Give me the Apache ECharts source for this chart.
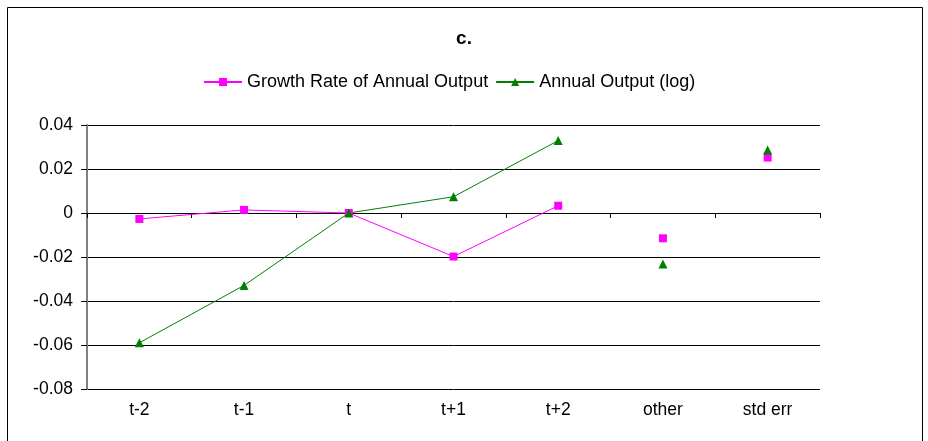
<!DOCTYPE html>
<html>
<head>
<meta charset="utf-8">
<script src="https://cdn.jsdelivr.net/npm/echarts@6/dist/echarts.min.js"></script>
<style>
  html, body { margin: 0; padding: 0; background: #fff; }
  #main { width: 928px; height: 441px; }
</style>
</head>
<body>
<div id="main"></div>
<script>
  var categories = ['t-2', 't-1', 't', 't+1', 't+2', 'other', 'std err'];
  var growthRate = [-0.0027, 0.0014, 0, -0.0198, 0.0033, -0.0115, 0.0252];
  var annualOutput = [-0.059, -0.0329, 0, 0.0074, 0.0329, -0.0232, 0.0286];
  var yTicks = [-0.08, -0.06, -0.04, -0.02, 0, 0.02, 0.04];

  // first five points are joined by a line, the last two are markers only
  var nLine = 5;
  function linepart (arr) {
    return arr.map(function (v, i) { return i < nLine ? v : '-' });
  }
  function dotpart (arr) {
    return arr.map(function (v, i) { return i >= nLine ? v : '-' });
  }

  var font = 'Liberation Sans, Arial, sans-serif';
  var pink = '#FF00FF';
  var green = '#008000';

  var myChart = echarts.init(document.getElementById('main'), null, { renderer: 'canvas' });
  myChart.setOption({
    animation: false,
    graphic: [{
      type: 'rect',
      shape: { x: 7.5, y: 7.5, width: 915, height: 460 },
      style: { fill: 'none', stroke: '#000', lineWidth: 1 },
      z: -1
    }],
    title: {
      text: 'c.',
      left: 'center',
      top: 24,
      textStyle: { fontFamily: font, fontSize: 19, fontWeight: 'bold', color: '#000' }
    },
    legend: {
      data: ['Growth Rate of Annual Output', 'Annual Output (log)'],
      left: 198,
      top: 68,
      itemWidth: 38,
      itemHeight: 10,
      itemGap: 7,
      textStyle: { fontFamily: font, fontSize: 18, color: '#000' }
    },
    grid: { left: 87, right: 108, top: 125, bottom: 52 },
    xAxis: [
      {
        type: 'category',
        data: categories,
        boundaryGap: true,
        axisLine: { onZero: true, lineStyle: { color: '#000', width: 1 } },
        axisTick: { show: true, length: 5, lineStyle: { color: '#000' } },
        axisLabel: { show: false },
        splitLine: { show: false }
      },
      {
        type: 'category',
        data: categories,
        position: 'bottom',
        axisLine: { show: false, onZero: false },
        axisTick: { show: false },
        axisLabel: { fontFamily: font, fontSize: 17.5, color: '#000', margin: 12 },
        splitLine: { show: false }
      }
    ],
    yAxis: {
      type: 'value',
      min: yTicks[0],
      max: yTicks[yTicks.length - 1],
      interval: 0.02,
      axisLine: { show: true, lineStyle: { color: '#808080', width: 2 } },
      axisTick: { show: true, length: 6, lineStyle: { color: '#000' } },
      axisLabel: {
        fontFamily: font, fontSize: 17.5, color: '#000', margin: 14,
        formatter: function (v) { return +v.toFixed(2) + '' }
      },
      splitLine: { lineStyle: { color: '#000', width: 1 } }
    },
    series: [
      {
        name: 'Growth Rate of Annual Output',
        type: 'line',
        data: linepart(growthRate),
        symbol: 'rect',
        symbolSize: 8,
        itemStyle: { color: pink },
        lineStyle: { color: pink, width: 1 },
        z: 3
      },
      {
        name: 'Annual Output (log)',
        type: 'line',
        data: linepart(annualOutput),
        symbol: 'triangle',
        symbolSize: 9,
        itemStyle: { color: green },
        lineStyle: { color: green, width: 1 },
        z: 3
      },
      {
        name: 'Growth Rate of Annual Output',
        type: 'scatter',
        data: dotpart(growthRate),
        symbol: 'rect',
        symbolSize: 8,
        itemStyle: { color: pink, opacity: 1 },
        z: 3
      },
      {
        name: 'Annual Output (log)',
        type: 'scatter',
        data: dotpart(annualOutput),
        symbol: 'triangle',
        symbolSize: 9,
        itemStyle: { color: green, opacity: 1 },
        z: 4
      }
    ]
  });
</script>
</body>
</html>
